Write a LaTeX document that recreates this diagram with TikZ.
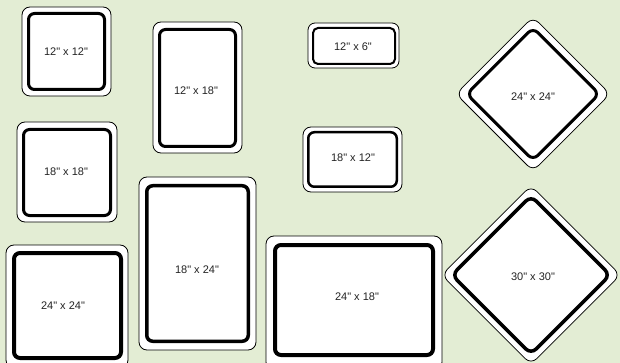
\documentclass[tikz,border=0pt]{standalone}
\usepackage{fontspec}
\newfontfamily\signfont{Liberation Sans}
\usepackage{xcolor}
\definecolor{bggreen}{RGB}{227,237,212}
\definecolor{labelgray}{RGB}{35,35,35}

\begin{document}
\begin{tikzpicture}[
    x=1pt, y=-1pt,
    font=\signfont\fontsize{11}{13}\selectfont,
    outer/.style={draw=black, fill=white, line width=0.8pt, rounded corners=8pt},
    inner/.style={draw=black, line width=#1, rounded corners=6pt},
    inner/.default=3pt,
    size/.style={text=labelgray, inner sep=0pt}
]

% --- HINTERGRUND ---
\fill[bggreen] (0,0) rectangle (620,363);
\clip (0,0) rectangle (620,363);

% --- LINKE SPALTE ---
\draw[outer] (22,7) rectangle (111,96);
\draw[inner] (28.5,13.5) rectangle (104.5,89.5);
\node[size] (s1212) at (66,52) {12" x 12"};

\draw[outer] (17,122) rectangle (117,222);
\draw[inner] (23.5,129.5) rectangle (110.5,215.5);
\node[size] (s1818) at (66,172) {18" x 18"};

\draw[outer] (6,245) rectangle (128,368);
\draw[inner=4pt] (14,253) rectangle (121,358);
\node[size] (s2424a) at (63,306) {24" x 24"};

% --- MITTLERE SPALTE ---
\draw[outer] (153,22) rectangle (242,153);
\draw[inner] (159.5,29.5) rectangle (235.5,146.5);
\node[size] (s1218) at (196,91) {12" x 18"};

\draw[outer] (139,177) rectangle (256,350);
\draw[inner=3.5pt] (146.75,185.75) rectangle (248.25,341.25);
\node[size] (s1824) at (197,270) {18" x 24"};

% --- DRITTE SPALTE ---
\draw[outer, rounded corners=7pt] (308,23) rectangle (399,68);
\draw[inner=2pt, rounded corners=5pt] (313,28) rectangle (395,64);
\node[size] (s126) at (353,47) {12" x 6"};

\draw[outer] (303,127) rectangle (402,192);
\draw[inner=2.5pt] (308.25,132.25) rectangle (396.75,186.75);
\node[size] (s1812) at (353,158) {18" x 12"};

\draw[outer] (266,236) rectangle (442,370);
\draw[inner=4pt] (275,245) rectangle (433,355);
\node[size] (s2418) at (357,297) {24" x 18"};

% --- RAUTEN ---
\begin{scope}[shift={(533,94)}, rotate=45]
    \draw[outer] (-54.5,-54.5) rectangle (54.5,54.5);
    \draw[inner, rounded corners=7pt] (-46.9,-46.9) rectangle (46.9,46.9);
\end{scope}
\node[size] (d2424) at (533,97) {24" x 24"};

\begin{scope}[shift={(531,275)}, rotate=45]
    \draw[outer] (-63.2,-63.2) rectangle (63.2,63.2);
    \draw[inner=3.5pt, rounded corners=7pt] (-55.9,-55.9) rectangle (55.9,55.9);
\end{scope}
\node[size] (d3030) at (533,277) {30" x 30"};
\end{tikzpicture}
\end{document}
